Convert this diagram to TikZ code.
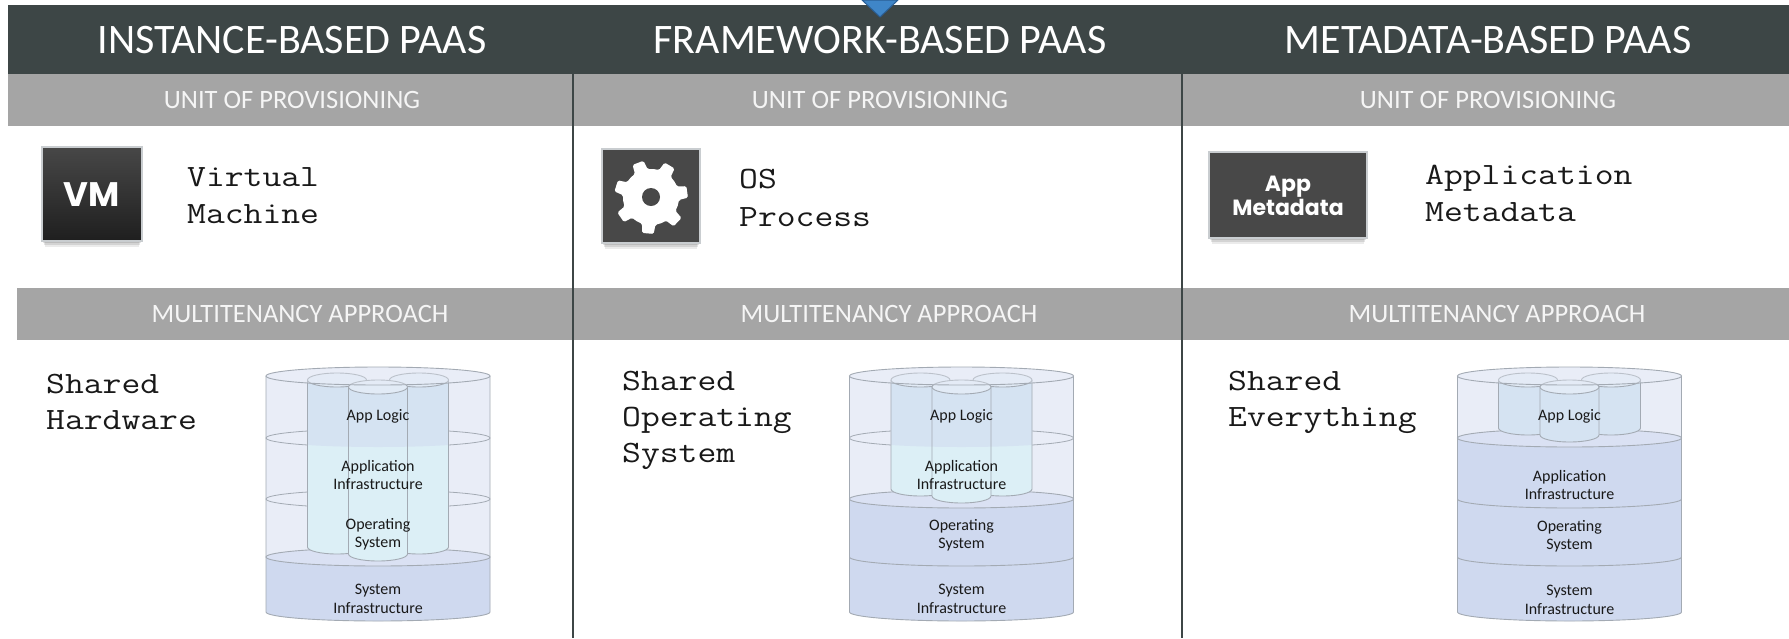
\documentclass[tikz,border=0pt]{standalone}
\usepackage{fontspec}
\setmainfont{Carlito}
\newfontfamily\monofont[FakeStretch=1.18]{Latin Modern Mono}
\newfontfamily\iconfont{Poppins}
\definecolor{bandcol}{HTML}{3D4646}
\definecolor{graybar}{HTML}{A5A5A5}
\definecolor{glass}{HTML}{E9EDF7}
\definecolor{glassedge}{HTML}{A3AAB3}
\definecolor{layerblue}{HTML}{CFD9EF}
\definecolor{layertop}{HTML}{DAE1F3}
\definecolor{innerblue}{HTML}{D5E3F2}
\definecolor{innercyan}{HTML}{DCEFF6}
\definecolor{innertop}{HTML}{E2EBF6}
\definecolor{icondark}{HTML}{484848}
\definecolor{iconedge}{HTML}{C9CDD0}
\definecolor{arrowblue}{HTML}{3F86C8}
\definecolor{arrowedge}{HTML}{2B5F95}

% outer cylinder pieces (cx); rx=112, ry=9, top 376, bottom 612
\newcommand{\outerglass}[1]{%
  \fill[glass] (#1-112,-376) -- (#1-112,-612) arc[start angle=180,end angle=360,x radius=112,y radius=9]
    -- (#1+112,-376) arc[start angle=0,end angle=180,x radius=112,y radius=9] -- cycle;}
\newcommand{\bluelayer}[2]{%
  \fill[layerblue] (#1-112,-#2) -- (#1-112,-612) arc[start angle=180,end angle=360,x radius=112,y radius=9]
    -- (#1+112,-#2) arc[start angle=0,end angle=180,x radius=112,y radius=9] -- cycle;
  \filldraw[fill=layertop,draw=glassedge,line width=0.9pt] (#1,-#2) ellipse[x radius=112,y radius=9];}
\newcommand{\glassring}[2]{%
  \draw[glassedge,line width=0.8pt] (#1,-#2) ellipse[x radius=112,y radius=9];}
\newcommand{\frontarc}[2]{%
  \draw[glassedge,line width=0.9pt] (#1-112,-#2) arc[start angle=180,end angle=360,x radius=112,y radius=9];}
\newcommand{\outerside}[1]{%
  \draw[glassedge,line width=0.9pt] (#1-112,-376) -- (#1-112,-612) arc[start angle=180,end angle=360,x radius=112,y radius=9] -- (#1+112,-376);}
\newcommand{\outertop}[1]{%
  \filldraw[fill=glass,fill opacity=0.35,draw=glassedge,line width=0.9pt] (#1,-376) ellipse[x radius=112,y radius=9];}
% inner cylinder: cx, ytop, ybot, outer cx
\newcommand{\innercyl}[4]{%
  \fill[innercyan] (#1-29.5,-#2) -- (#1-29.5,-#3) arc[start angle=180,end angle=360,x radius=29.5,y radius=7] -- (#1+29.5,-#2) -- cycle;
  \begin{scope}
    \clip (#4-112,-300) -- (#4-112,-438) arc[start angle=180,end angle=360,x radius=112,y radius=9] -- (#4+112,-300) -- cycle;
    \fill[innerblue] (#1-29.5,-#2) -- (#1-29.5,-#3) arc[start angle=180,end angle=360,x radius=29.5,y radius=7] -- (#1+29.5,-#2) -- cycle;
  \end{scope}
  \draw[glassedge,line width=0.9pt] (#1-29.5,-#2) -- (#1-29.5,-#3) arc[start angle=180,end angle=360,x radius=29.5,y radius=7] -- (#1+29.5,-#2);
  \filldraw[fill=innertop,draw=glassedge,line width=0.9pt] (#1,-#2) ellipse[x radius=29.5,y radius=7];}
% icon shadow: x1, y1, x2, y2
\newcommand{\iconshadow}[4]{%
  \fill[black,opacity=0.10] (#1+1,-#2-2) rectangle (#3-1,-#4-2);
  \fill[black,opacity=0.10] (#1+2,-#2-4) rectangle (#3-2,-#4-4);
  \fill[black,opacity=0.08] (#1+3,-#2-6) rectangle (#3-3,-#4-6);}

\tikzset{
  x=1pt,y=1pt,
  titlelbl/.style={text=white,font=\fontsize{42}{48}\selectfont,inner sep=0pt},
  barlbl/.style={text=white!96!black,font=\fontsize{26.5}{30}\selectfont,inner sep=0pt},
  monolbl/.style={text=black!90,font=\monofont\fontsize{31}{36}\selectfont,inner sep=0pt,anchor=base west},
  cyllbl/.style={text=black!90,font=\fontsize{16}{18.5}\selectfont,align=center,inner sep=0pt},
  icontext/.style={text=white,font=\iconfont\bfseries,align=center,inner sep=0pt},
  divider/.style={draw=bandcol,line width=2pt},
}

\begin{document}
\begin{tikzpicture}
\useasboundingbox (0,0) rectangle (1789,-638);
\fill[white] (0,0) rectangle (1789,-638);

% bands
\fill[bandcol] (8,-5) rectangle (1789,-74);
\fill[graybar] (8,-74) rectangle (1789,-126);
\fill[graybar] (17,-288) rectangle (1789,-340);

% dividers
\coordinate (d1a) at (573,-74);  \coordinate (d1b) at (573,-638);
\coordinate (d2a) at (1182,-74); \coordinate (d2b) at (1182,-638);
\draw[divider] (d1a) -- (d1b);
\draw[divider] (d2a) -- (d2b);

% blue marker
\filldraw[fill=arrowblue,draw=arrowedge,line width=1pt] (862,0) -- (898,0) -- (880,-17) -- cycle;

% titles
\node[titlelbl] (t1) at (292,-40) {INSTANCE-BASED PAAS};
\node[titlelbl] (t2) at (880,-40) {FRAMEWORK-BASED PAAS};
\node[titlelbl] (t3) at (1488,-40) {METADATA-BASED PAAS};

\node[barlbl] (u1) at (292,-100) {UNIT OF PROVISIONING};
\node[barlbl] (u2) at (880,-100) {UNIT OF PROVISIONING};
\node[barlbl] (u3) at (1488,-100) {UNIT OF PROVISIONING};

\node[barlbl] (m1) at (300,-314) {MULTITENANCY APPROACH};
\node[barlbl] (m2) at (889,-314) {MULTITENANCY APPROACH};
\node[barlbl] (m3) at (1497,-314) {MULTITENANCY APPROACH};

% ---- icons ----
% VM
\iconshadow{42}{147}{142}{241}
\shade[top color=black!72,bottom color=black!88] (42,-147) rectangle (142,-241);
\draw[iconedge,line width=1.5pt] (42,-147) rectangle (142,-241);
\node[icontext,font=\iconfont\bfseries\fontsize{34}{36}\selectfont] (vm) at (92,-195) {VM};

% gear
\iconshadow{602}{149}{700}{243}
\fill[icondark] (602,-149) rectangle (700,-243);
\draw[iconedge,line width=1.5pt] (602,-149) rectangle (700,-243);
\fill[white,shift={(651,-197)},rotate=8,rounded corners=1.5pt]
  (-14:28) \foreach \i in {0,...,6}{ -- ({\i*360/7-9}:37) -- ({\i*360/7+9}:37) -- ({\i*360/7+14}:28)
     arc[start angle={\i*360/7+14},end angle={\i*360/7+360/7-14},radius=28] } -- cycle;
\fill[icondark] (651,-197) circle[radius=9];
\coordinate (gear) at (651,-197);

% App Metadata
\iconshadow{1209}{152}{1367}{238}
\fill[icondark] (1209,-152) rectangle (1367,-238);
\draw[iconedge,line width=1.5pt] (1209,-152) rectangle (1367,-238);
\node[icontext,font=\iconfont\bfseries\fontsize{22}{24}\selectfont] (am) at (1288,-196) {App\\Metadata};

% mono texts
\node[monolbl] (p1a) at (187,-186) {Virtual};
\node[monolbl] (p1b) at (187,-223) {Machine};
\node[monolbl] (p2a) at (739,-188) {OS};
\node[monolbl] (p2b) at (739,-226) {Process};
\node[monolbl] (p3a) at (1425,-184) {Application};
\node[monolbl] (p3b) at (1425,-221) {Metadata};

\node[monolbl] (s1a) at (46,-393) {Shared};
\node[monolbl] (s1b) at (46,-429) {Hardware};
\node[monolbl] (s2a) at (622,-390) {Shared};
\node[monolbl] (s2b) at (622,-426) {Operating};
\node[monolbl] (s2c) at (622,-462) {System};
\node[monolbl] (s3a) at (1228,-390) {Shared};
\node[monolbl] (s3b) at (1228,-426) {Everything};

% ---- cylinder 1 ----
\outerglass{378}
\bluelayer{378}{557}
\glassring{378}{438}
\glassring{378}{499}
\outerside{378}
\innercyl{337}{380}{547}{378}
\innercyl{419}{380}{547}{378}
\innercyl{378}{387}{554}{378}
\outertop{378}
\node[cyllbl] (a1) at (378,-416) {App Logic};
\node[cyllbl] (b1) at (378,-475) {Application\\Infrastructure};
\node[cyllbl] (c1) at (378,-534) {Operating\\System};
\node[cyllbl] (e1) at (378,-599) {System\\Infrastructure};

% ---- cylinder 2 ----
\outerglass{961.5}
\bluelayer{961.5}{499}
\glassring{961.5}{438}
\frontarc{961.5}{557}
\outerside{961.5}
\innercyl{920.5}{380}{489}{961.5}
\innercyl{1002.5}{380}{489}{961.5}
\innercyl{961.5}{387}{496}{961.5}
\outertop{961.5}
\node[cyllbl] (a2) at (961.5,-416) {App Logic};
\node[cyllbl] (b2) at (961.5,-475) {Application\\Infrastructure};
\node[cyllbl] (c2) at (961.5,-535) {Operating\\System};
\node[cyllbl] (e2) at (961.5,-599) {System\\Infrastructure};

% ---- cylinder 3 ----
\outerglass{1569.5}
\bluelayer{1569.5}{438}
\frontarc{1569.5}{499}
\frontarc{1569.5}{557}
\outerside{1569.5}
\innercyl{1528}{380}{428}{1569.5}
\innercyl{1611}{380}{428}{1569.5}
\innercyl{1569.5}{387}{435}{1569.5}
\outertop{1569.5}
\node[cyllbl] (a3) at (1569.5,-416) {App Logic};
\node[cyllbl] (b3) at (1569.5,-485) {Application\\Infrastructure};
\node[cyllbl] (c3) at (1569.5,-536) {Operating\\System};
\node[cyllbl] (e3) at (1569.5,-600) {System\\Infrastructure};
\end{tikzpicture}
\end{document}
